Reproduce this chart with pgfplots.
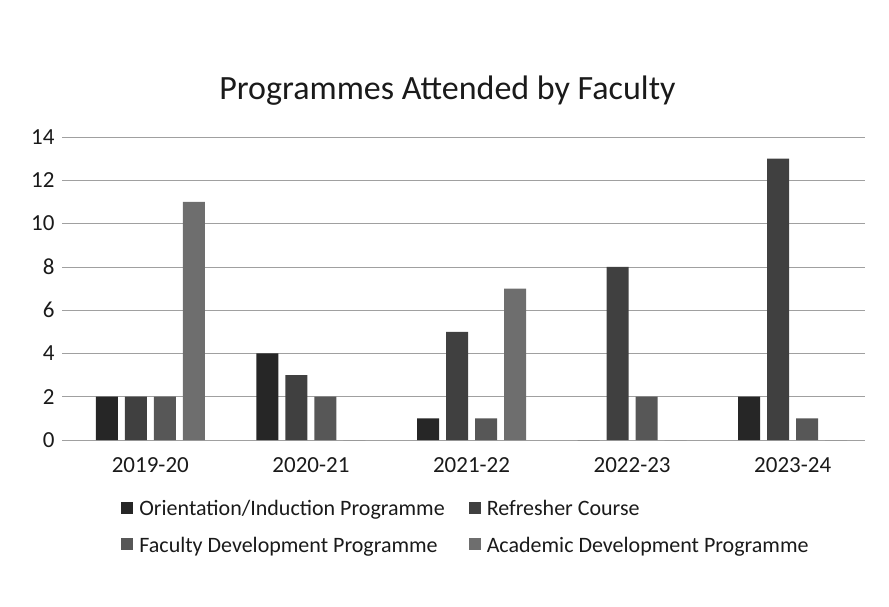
\documentclass[border=0pt]{standalone}
\usepackage{fontspec}
\setmainfont{Carlito}
\usepackage{pgfplots}
\pgfplotsset{compat=1.18}
\definecolor{sA}{HTML}{262626}
\definecolor{sB}{HTML}{404040}
\definecolor{sC}{HTML}{575757}
\definecolor{sD}{HTML}{6E6E6E}
\definecolor{gridc}{HTML}{A0A0A0}
\definecolor{txt}{HTML}{1A1A1A}
\begin{document}
\begin{tikzpicture}
\useasboundingbox (0,0) rectangle (889pt,606pt);
\begin{axis}[
  at={(62pt,166pt)}, anchor=south west,
  scale only axis, width=803pt, height=303pt,
  ybar=7pt, bar width=22pt,
  xmin=-0.55, xmax=4.45, ymin=0, ymax=14,
  xtick=data, xticklabels={2019-20,2020-21,2021-22,2022-23,2023-24},
  ytick={0,2,...,14},
  ymajorgrids, grid style={gridc, line width=0.6pt},
  axis line style={draw=none},
  major tick length=0pt,
  tick label style={font=\fontsize{23}{26}\selectfont, text=txt},
  /pgf/number format/assume math mode=true,
  yticklabel style={xshift=-4pt},
  xticklabel style={yshift=-14pt},
  title={Programmes Attended by Faculty},
  title style={font=\fontsize{34}{38}\selectfont, text=txt, at={(0.48,1)}, anchor=south, yshift=22pt},
  legend columns=2,
  legend cell align=left,
  legend style={draw=none, fill=none, at={(0.07,-0.185)}, anchor=north west,
    font=\fontsize{22}{25}\selectfont, text=txt,
    /tikz/every odd column/.append style={column sep=4pt},
    /tikz/every even column/.append style={column sep=22pt},
    row sep=16pt},
  legend image code/.code={\fill[#1] (0pt,-5pt) rectangle (12pt,7pt);},
]
\addplot[fill=sA, draw=none] coordinates {(0,2) (1,4) (2,1) (3,0) (4,2)};
\addplot[fill=sB, draw=none] coordinates {(0,2) (1,3) (2,5) (3,8) (4,13)};
\addplot[fill=sC, draw=none] coordinates {(0,2) (1,2) (2,1) (3,2) (4,1)};
\addplot[fill=sD, draw=none] coordinates {(0,11) (1,0) (2,7) (3,0) (4,0)};
\legend{Orientation/Induction Programme, Refresher Course, Faculty Development Programme, Academic Development Programme}
\end{axis}
\end{tikzpicture}
\end{document}
